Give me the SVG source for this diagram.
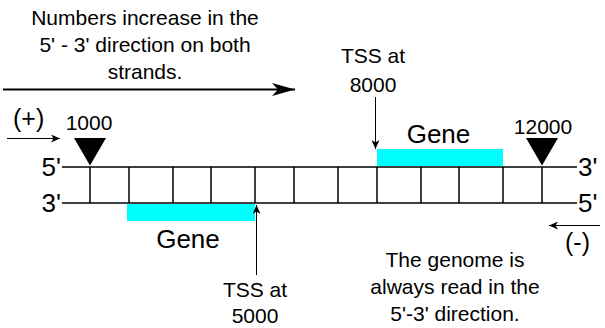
<svg xmlns="http://www.w3.org/2000/svg" width="605" height="328" viewBox="0 0 605 328">
  <style>
    text { font-family: "Liberation Sans", Arial, sans-serif; fill: #000; }
    .strand { stroke: #000; stroke-width: 1.5; fill: none; }
    .rung { stroke: #000; stroke-width: 1.5; }
    .gene { fill: #00FFFF; }
    .thin { stroke: #000; stroke-width: 1; fill: none; }
    .bold { stroke: #000; stroke-width: 2; fill: none; }
    .lbl { font-size: 21px; text-anchor: middle; }
    .end { font-size: 26px; }
    .sign { font-size: 25px; }
    .gname { font-size: 26px; text-anchor: middle; }
    .mark { fill: #000; }
  </style>
  <defs>
    <marker id="headSmall" markerUnits="userSpaceOnUse" markerWidth="10" markerHeight="8" refX="9" refY="4" orient="auto">
      <path d="M0,0 L9,4 L0,8 L2.5,4 Z" fill="#000"/>
    </marker>
    <marker id="headBig" markerUnits="userSpaceOnUse" markerWidth="24" markerHeight="13" refX="23" refY="6.5" orient="auto">
      <path d="M0,0 L23,6.5 L0,13 L6,6.5 Z" fill="#000"/>
    </marker>
  </defs>

  <!-- caption about numbering -->
  <g id="caption-top">
    <text class="lbl" x="145" y="25" font-size="20">Numbers increase in the</text>
    <text class="lbl" x="145" y="52" font-size="20">5' - 3' direction on both</text>
    <text class="lbl" x="145" y="79" font-size="20">strands.</text>
  </g>

  <!-- DNA double strand -->
  <g id="dna">
    <line class="strand" x1="62" y1="167" x2="577" y2="167"/>
    <line class="strand" x1="62" y1="203" x2="577" y2="203"/>
    <g class="rung">
      <line x1="90" y1="167" x2="90" y2="203"/>
      <line x1="129" y1="167" x2="129" y2="203"/>
      <line x1="173" y1="167" x2="173" y2="203"/>
      <line x1="211" y1="167" x2="211" y2="203"/>
      <line x1="255" y1="167" x2="255" y2="203"/>
      <line x1="294" y1="167" x2="294" y2="203"/>
      <line x1="338" y1="167" x2="338" y2="203"/>
      <line x1="377" y1="167" x2="377" y2="203"/>
      <line x1="421" y1="167" x2="421" y2="203"/>
      <line x1="459" y1="167" x2="459" y2="203"/>
      <line x1="503" y1="167" x2="503" y2="203"/>
      <line x1="542" y1="167" x2="542" y2="203"/>
    </g>
    <text class="end" x="61" y="176" text-anchor="end">5'</text>
    <text class="end" x="61" y="212" text-anchor="end">3'</text>
    <text class="end" x="578" y="176">3'</text>
    <text class="end" x="578" y="212">5'</text>
  </g>

  <!-- genes -->
  <g id="gene-plus">
    <rect class="gene" x="377" y="149" width="126" height="17"/>
    <text class="gname" x="438.5" y="143">Gene</text>
  </g>
  <g id="gene-minus">
    <rect class="gene" x="127" y="204" width="128" height="17"/>
    <text class="gname" x="188" y="248">Gene</text>
  </g>

  <!-- position markers -->
  <g id="pos-1000">
    <polygon class="mark" points="74,138 106,138 90,165.5"/>
    <text class="lbl" x="89" y="130" font-size="20">1000</text>
  </g>
  <g id="pos-12000">
    <polygon class="mark" points="526,138 558,138 542,165.5"/>
    <text class="lbl" x="543" y="134">12000</text>
  </g>

  <!-- transcription start labels -->
  <g id="tss-8000">
    <text class="lbl" x="373" y="63">TSS at</text>
    <text class="lbl" x="373" y="92">8000</text>
  </g>
  <g id="tss-5000">
    <text class="lbl" x="255" y="297">TSS at</text>
    <text class="lbl" x="255" y="323">5000</text>
  </g>

  <!-- strand labels -->
  <g id="plus-strand">
    <text class="sign" x="13" y="127">(+)</text>
  </g>
  <g id="minus-strand">
    <text class="sign" x="565" y="251">(-)</text>
  </g>

  <!-- reading direction note -->
  <g id="caption-bottom">
    <text class="lbl" x="455" y="267">The genome is</text>
    <text class="lbl" x="455" y="294">always read in the</text>
    <text class="lbl" x="455" y="321">5'-3' direction.</text>
  </g>

  <!-- connectors -->
  <g id="connectors">
    <line class="bold" x1="3" y1="89.5" x2="295" y2="89.5" marker-end="url(#headBig)"/>
    <line class="thin" x1="7" y1="138.5" x2="60" y2="138.5" marker-end="url(#headSmall)"/>
    <line class="thin" x1="600" y1="225.5" x2="549" y2="225.5" marker-end="url(#headSmall)"/>
    <line class="thin" x1="375.5" y1="97" x2="375.5" y2="149" marker-end="url(#headSmall)"/>
    <line class="thin" x1="256.5" y1="275" x2="256.5" y2="205" marker-end="url(#headSmall)"/>
  </g>
</svg>
